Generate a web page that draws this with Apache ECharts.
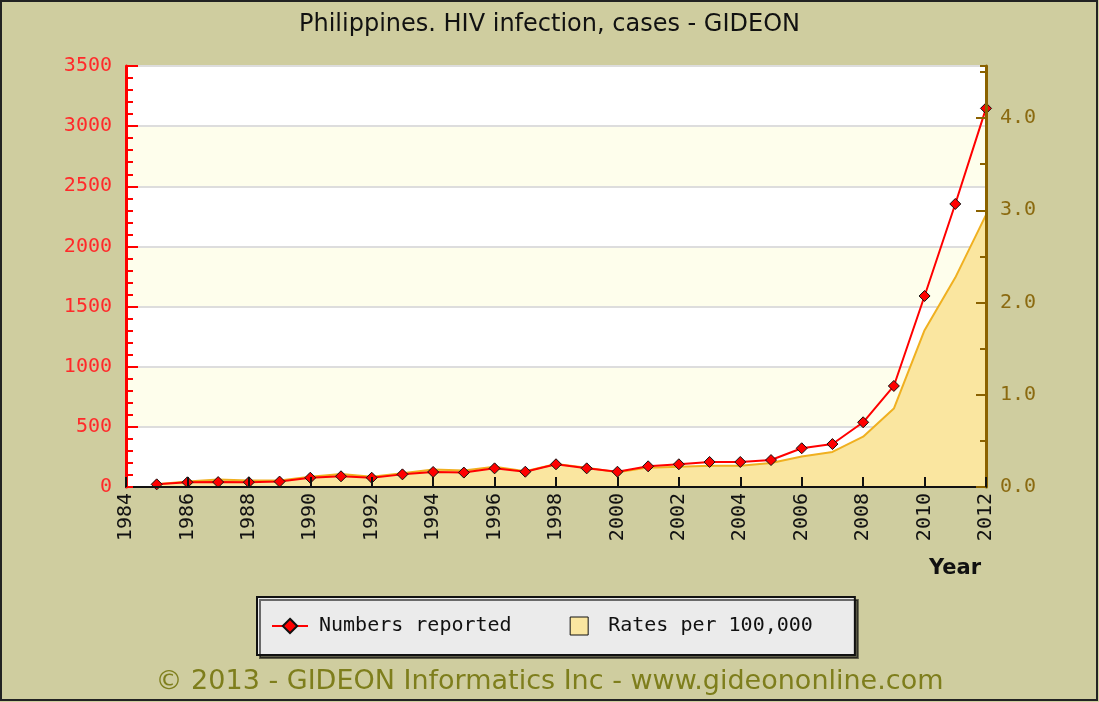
<!DOCTYPE html>
<html>
<head>
<meta charset="utf-8">
<script src="https://cdn.jsdelivr.net/npm/echarts@6/dist/echarts.min.js"></script>
<style>
html,body{margin:0;padding:0;background:#CFCD9F;}
#chart{width:1099px;height:702px;}
</style>
</head>
<body>
<div id="chart"></div>
<script>
const years = [1985,1986,1987,1988,1989,1990,1991,1992,1993,1994,1995,1996,1997,1998,1999,2000,2001,2002,2003,2004,2005,2006,2007,2008,2009,2010,2011,2012];
const numbersReported = [22,39,41,40,45,77,89,77,105,125,120,155,127,189,155,127,172,189,208,208,224,322,357,538,840,1588,2353,3148];
const ratesPer100k = [0.03,0.06,0.08,0.07,0.07,0.11,0.14,0.11,0.15,0.19,0.18,0.22,0.17,0.25,0.21,0.16,0.21,0.22,0.23,0.23,0.26,0.33,0.38,0.545,0.85,1.70,2.27,2.95];
const leftTicks = [0,500,1000,1500,2000,2500,3000,3500];
const rightTicks = ['0.0','1.0','2.0','3.0','4.0'];

const chart = echarts.init(document.getElementById('chart'));
const mono = "'DejaVu Sans Mono', monospace";
const option = {
  backgroundColor: '#CFCD9F',
  animation: false,
  title: {
    text: 'Philippines. HIV infection, cases - GIDEON',
    left: 'center', top: 8,
    textStyle: {fontFamily: "'DejaVu Sans'", fontSize: 24, fontWeight: 'normal', color: '#111'}
  },
  legend: {
    left: 257, top: 597,
    backgroundColor: '#EBEBEB', borderColor: '#111', borderWidth: 2, borderRadius: 0,
    shadowColor: 'rgba(0,0,0,0.55)', shadowOffsetX: 3, shadowOffsetY: 3, shadowBlur: 0,
    padding: [19, 42, 19, 14],
    itemGap: 58, itemWidth: 36, itemHeight: 18,
    textStyle: {fontFamily: mono, fontSize: 20, color: '#111', padding: [0, 0, 0, 6]},
    data: [
      {name: 'Numbers reported'},
      {name: 'Rates per 100,000', icon: 'path://M0,0H10V10H0Z', itemStyle: {color: '#FAE6A0', borderColor: '#111', borderWidth: 1}}
    ]
  },
  grid: {left: 126, right: 113, top: 66, bottom: 215},
  xAxis: {
    type: 'value', min: 1984, max: 2012, interval: 2,
    axisLine: {lineStyle: {color: '#111', width: 2}},
    axisTick: {inside: true, length: 10, lineStyle: {color: '#111', width: 2}},
    axisLabel: {rotate: 90, fontFamily: mono, fontSize: 20, color: '#111', margin: 6, formatter: v => String(v)},
    splitLine: {show: false},
    z: 5
  },
  yAxis: [
    {
      type: 'value', min: 0, max: 3500, interval: 500, position: 'left',
      axisLine: {show: true, lineStyle: {color: '#FF0000', width: 3}},
      axisTick: {show: true, inside: true, length: 12, lineStyle: {color: '#FF0000', width: 2}},
      axisLabel: {fontFamily: mono, fontSize: 20, color: '#FF2A2A', margin: 14,
        formatter: v => leftTicks.includes(v) ? String(v) : ''},
      splitLine: {show: true, lineStyle: {color: '#DDDDDD', width: 2}},
      splitArea: {show: true, areaStyle: {color: ['#FFFFFF', '#FEFEEC']}}
    },
    {
      type: 'value', min: 0, max: 4.564, interval: 1, position: 'right',
      axisLine: {show: true, lineStyle: {color: '#8B6200', width: 3}},
      axisTick: {show: true, inside: true, length: 10, lineStyle: {color: '#8B6200', width: 2}},
      axisLabel: {fontFamily: mono, fontSize: 20, color: '#8B6A10', margin: 14, showMaxLabel: false,
        formatter: v => { const s = v.toFixed(1); return rightTicks.includes(s) ? s : ''; }},
      splitLine: {show: false},
      z: 5
    },
    {
      type: 'value', min: 0, max: 3500, interval: 100, position: 'left',
      axisLine: {show: false},
      axisTick: {show: true, inside: true, length: 7, lineStyle: {color: '#FF0000', width: 2}},
      axisLabel: {show: false},
      splitLine: {show: false}, splitArea: {show: false},
      z: 5
    },
    {
      type: 'value', min: 0, max: 4.564, interval: 0.5, position: 'right',
      axisLine: {show: false},
      axisTick: {show: true, inside: true, length: 6, lineStyle: {color: '#8B6200', width: 2}},
      axisLabel: {show: false},
      splitLine: {show: false}, splitArea: {show: false},
      z: 5
    }
  ],
  series: [
    {
      name: 'Rates per 100,000', type: 'line', yAxisIndex: 1,
      data: years.map((y, i) => [y, ratesPer100k[i]]),
      showSymbol: false, symbol: 'none',
      lineStyle: {color: '#F0B020', width: 2},
      itemStyle: {color: '#FAE6A0', borderColor: '#111', borderWidth: 1},
      areaStyle: {color: '#FAE6A0', opacity: 1},
      z: 2
    },
    {
      name: 'Numbers reported', type: 'line', yAxisIndex: 0,
      data: years.map((y, i) => [y, numbersReported[i]]),
      symbol: 'diamond', symbolSize: 11,
      lineStyle: {color: '#FF0000', width: 2},
      itemStyle: {color: '#FF0000', borderColor: '#111', borderWidth: 1},
      z: 3
    }
  ],
  graphic: [
    {type: 'text', left: 929, top: 558, style: {text: 'Year', font: "bold 21px 'DejaVu Sans'", fill: '#111'}},
    {type: 'text', left: 'center', top: 668, style: {text: '© 2013 - GIDEON Informatics Inc - www.gideononline.com', font: "27px 'DejaVu Sans'", fill: '#7E7E1C'}},
    {type: 'rect', shape: {x: 1, y: 1, width: 1096, height: 699}, style: {fill: 'none', stroke: '#222', lineWidth: 2}, silent: true}
  ]
};
chart.setOption(option);
</script>
</body>
</html>
